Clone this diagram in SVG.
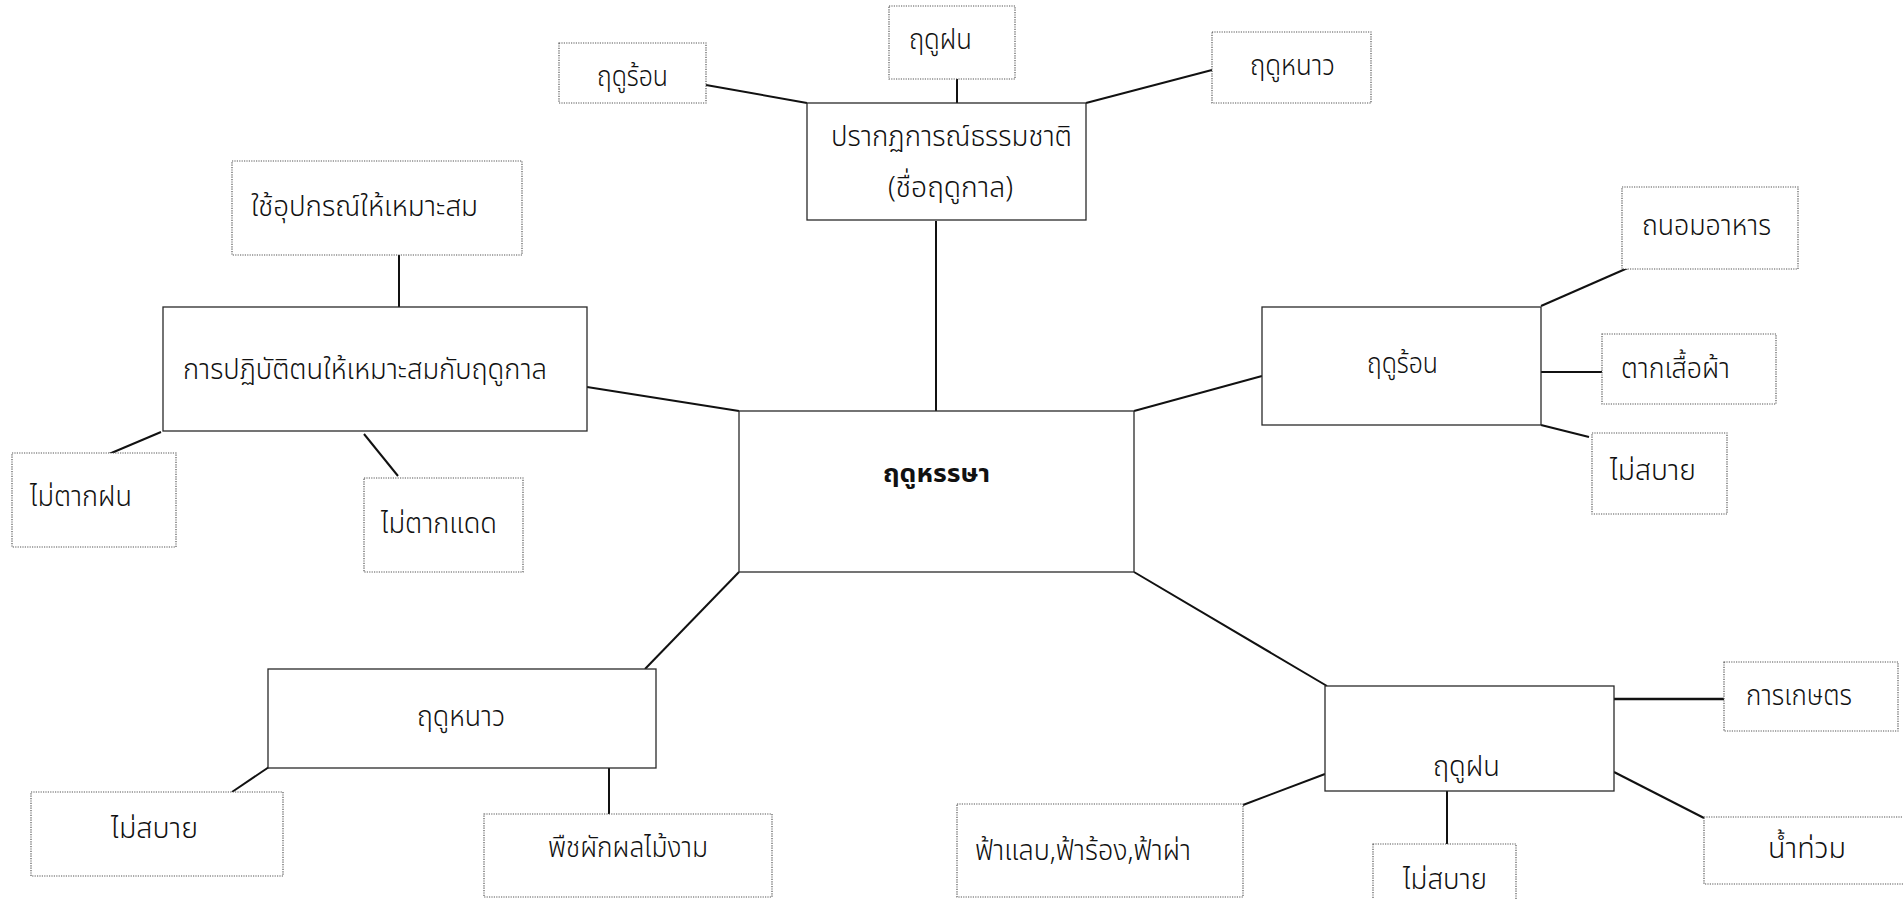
<svg xmlns="http://www.w3.org/2000/svg" width="1903" height="899" viewBox="0 0 1903 899">
<style>
.bg{fill:#fff}
.solid{fill:#fff;stroke:#2a2a2a;stroke-width:1.3}
.dot{fill:#fff;stroke:#555;stroke-width:1.2;stroke-dasharray:1.2 1.2}
.t{font-family:"Noto Sans Thai","Noto Sans","DejaVu Sans",sans-serif;font-size:29px;font-weight:300;fill:#111}
.tb{font-family:"Noto Sans Thai","Noto Sans","DejaVu Sans",sans-serif;font-size:25px;font-weight:bold;fill:#111}
.c line{stroke:#111;stroke-width:2}
</style>
<rect class="bg" x="0" y="0" width="1903" height="899"/>
<g id="connectors" class="c">
<line x1="706" y1="85" x2="807" y2="103"/>
<line x1="957" y1="79" x2="957" y2="103"/>
<line x1="1212" y1="70" x2="1086" y2="103"/>
<line x1="936" y1="221" x2="936" y2="411"/>
<line x1="399" y1="255" x2="399" y2="307"/>
<line x1="161" y1="432" x2="109" y2="454"/>
<line x1="364" y1="434" x2="398" y2="476"/>
<line x1="587" y1="387" x2="739" y2="411"/>
<line x1="1134" y1="411" x2="1262" y2="376"/>
<line x1="1541" y1="306" x2="1630" y2="267"/>
<line x1="1541" y1="372" x2="1602" y2="372"/>
<line x1="1541" y1="425" x2="1589" y2="437"/>
<line x1="739" y1="572" x2="645" y2="669"/>
<line x1="269" y1="767" x2="232" y2="792"/>
<line x1="609" y1="768" x2="609" y2="814"/>
<line x1="1134" y1="572" x2="1327" y2="686"/>
<line x1="1614" y1="699" x2="1724" y2="699" style="stroke-width:2.6"/>
<line x1="1243" y1="805" x2="1325" y2="774"/>
<line x1="1447" y1="791" x2="1447" y2="844"/>
<line x1="1614" y1="772" x2="1704" y2="818"/>
</g>
<g id="n-center"><rect class="solid" x="739" y="411" width="395" height="161"/><text class="tb" x="883" y="482" textLength="107" lengthAdjust="spacingAndGlyphs">ฤดูหรรษา</text></g>
<g id="n-nature"><rect class="solid" x="807" y="103" width="279" height="117"/><text class="t" x="831" y="146" textLength="241" lengthAdjust="spacingAndGlyphs">ปรากฏการณ์ธรรมชาติ</text><text class="t" x="888" y="197" textLength="125" lengthAdjust="spacingAndGlyphs">(ชื่อฤดูกาล)</text></g>
<g id="n-top-hot"><rect class="dot" x="559" y="43" width="147" height="60"/><text class="t" x="597" y="86" textLength="71" lengthAdjust="spacingAndGlyphs">ฤดูร้อน</text></g>
<g id="n-top-rain"><rect class="dot" x="889" y="6" width="126" height="73"/><text class="t" x="909" y="49" textLength="63" lengthAdjust="spacingAndGlyphs">ฤดูฝน</text></g>
<g id="n-top-cold"><rect class="dot" x="1212" y="32" width="159" height="71"/><text class="t" x="1250" y="75" textLength="85" lengthAdjust="spacingAndGlyphs">ฤดูหนาว</text></g>
<g id="n-practice"><rect class="solid" x="163" y="307" width="424" height="124"/><text class="t" x="183" y="379" textLength="364" lengthAdjust="spacingAndGlyphs">การปฏิบัติตนให้เหมาะสมกับฤดูกาล</text></g>
<g id="n-equip"><rect class="dot" x="232" y="161" width="290" height="94"/><text class="t" x="251" y="216" textLength="227" lengthAdjust="spacingAndGlyphs">ใช้อุปกรณ์ให้เหมาะสม</text></g>
<g id="n-norain"><rect class="dot" x="12" y="453" width="164" height="94"/><text class="t" x="30" y="506" textLength="102" lengthAdjust="spacingAndGlyphs">ไม่ตากฝน</text></g>
<g id="n-nosun"><rect class="dot" x="364" y="478" width="159" height="94"/><text class="t" x="381" y="533" textLength="116" lengthAdjust="spacingAndGlyphs">ไม่ตากแดด</text></g>
<g id="n-hot"><rect class="solid" x="1262" y="307" width="279" height="118"/><text class="t" x="1367" y="373" textLength="71" lengthAdjust="spacingAndGlyphs">ฤดูร้อน</text></g>
<g id="n-food"><rect class="dot" x="1622" y="187" width="176" height="82"/><text class="t" x="1642" y="235" textLength="129" lengthAdjust="spacingAndGlyphs">ถนอมอาหาร</text></g>
<g id="n-clothes"><rect class="dot" x="1602" y="334" width="174" height="70"/><text class="t" x="1621" y="378" textLength="109" lengthAdjust="spacingAndGlyphs">ตากเสื้อผ้า</text></g>
<g id="n-hot-sick"><rect class="dot" x="1592" y="433" width="135" height="81"/><text class="t" x="1610" y="480" textLength="86" lengthAdjust="spacingAndGlyphs">ไม่สบาย</text></g>
<g id="n-cold"><rect class="solid" x="268" y="669" width="388" height="99"/><text class="t" x="417" y="726" textLength="88" lengthAdjust="spacingAndGlyphs">ฤดูหนาว</text></g>
<g id="n-cold-sick"><rect class="dot" x="31" y="792" width="252" height="84"/><text class="t" x="111" y="838" textLength="87" lengthAdjust="spacingAndGlyphs">ไม่สบาย</text></g>
<g id="n-plants"><rect class="dot" x="484" y="814" width="288" height="83"/><text class="t" x="548" y="857" textLength="160" lengthAdjust="spacingAndGlyphs">พืชผักผลไม้งาม</text></g>
<g id="n-rain"><rect class="solid" x="1325" y="686" width="289" height="105"/><text class="t" x="1433" y="776" textLength="67" lengthAdjust="spacingAndGlyphs">ฤดูฝน</text></g>
<g id="n-agri"><rect class="dot" x="1724" y="662" width="174" height="69"/><text class="t" x="1746" y="705" textLength="106" lengthAdjust="spacingAndGlyphs">การเกษตร</text></g>
<g id="n-thunder"><rect class="dot" x="957" y="804" width="286" height="93"/><text class="t" x="975" y="860" textLength="216" lengthAdjust="spacingAndGlyphs">ฟ้าแลบ,ฟ้าร้อง,ฟ้าผ่า</text></g>
<g id="n-rain-sick"><rect class="dot" x="1373" y="844" width="143" height="70"/><text class="t" x="1403" y="889" textLength="84" lengthAdjust="spacingAndGlyphs">ไม่สบาย</text></g>
<g id="n-flood"><rect class="dot" x="1704" y="817" width="210" height="67"/><text class="t" x="1768" y="858" textLength="78" lengthAdjust="spacingAndGlyphs">น้ำท่วม</text></g>
</svg>
